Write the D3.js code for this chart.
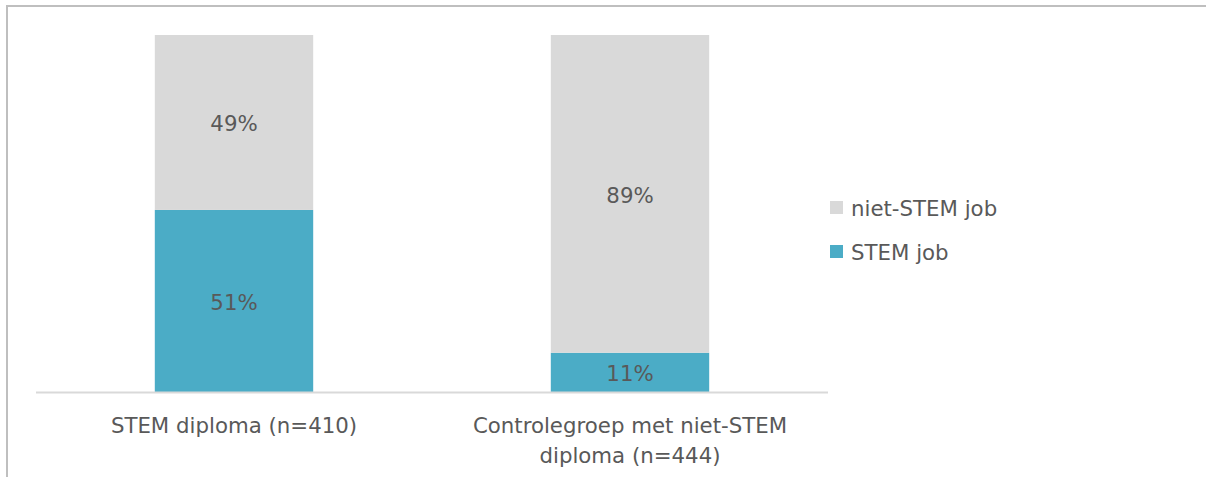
<!DOCTYPE html>
<html><head><meta charset="utf-8">
<script src="https://cdn.jsdelivr.net/npm/d3@7"></script>
<style>body{margin:0;background:#fff}svg{display:block}text{font-family:"DejaVu Sans";fill:#595959}</style>
</head><body>
<svg id="c" width="1206" height="477"></svg>
<script>
const categories = [["STEM diploma (n=410)"], ["Controlegroep met niet-STEM", "diploma (n=444)"]];
const catKeys = ["STEM diploma (n=410)", "Controlegroep met niet-STEM diploma (n=444)"];
const seriesNames = ["STEM job", "niet-STEM job"];
const stemJob = [51, 11];
const nietStemJob = [49, 89];
const colors = ["#4bacc6", "#d9d9d9"];

const FS = "21.3px";
const svg = d3.select("#c");
svg.append("rect").attr("x",7).attr("y",6).attr("width",1206).attr("height",480)
  .attr("fill","none").attr("stroke","#bfbfbf").attr("stroke-width",2);

const x = d3.scaleBand().domain(catKeys).range([36, 828]).padding(0);
const y = d3.scaleLinear().domain([0, 100]).range([392, 35]);
const barW = x.bandwidth() * 0.4;

const data = catKeys.map((k, i) => ({key: k, "STEM job": stemJob[i], "niet-STEM job": nietStemJob[i]}));
const stack = d3.stack().keys(seriesNames)(data);

const g = svg.append("g");
stack.forEach((s, si) => {
  s.forEach(d => {
    const cx = x(d.data.key) + x.bandwidth() / 2;
    g.append("rect").attr("x", cx - barW/2).attr("width", barW)
      .attr("y", y(d[1])).attr("height", y(d[0]) - y(d[1])).attr("fill", colors[si]);
    g.append("text").attr("x", cx).attr("y", (y(d[0]) + y(d[1]))/2 + 1).attr("dy","0.36em")
      .attr("text-anchor","middle").style("font-size",FS).text((d[1]-d[0]) + "%");
  });
});

// axis line
svg.append("line").attr("x1",36).attr("x2",828).attr("y1",392.5).attr("y2",392.5)
  .attr("stroke","#d9d9d9").attr("stroke-width",2);

// category labels
catKeys.forEach((k, i) => {
  const cx = x(k) + x.bandwidth()/2;
  const t = svg.append("text").attr("x", cx).attr("y", 433).attr("text-anchor","middle").style("font-size",FS);
  categories[i].forEach((line, li) => {
    t.append("tspan").attr("x", cx).attr("dy", li === 0 ? 0 : 30).text(line);
  });
});

// legend
const legendItems = ["niet-STEM job", "STEM job"];
legendItems.forEach((name, i) => {
  const yy = 208 + i * 44;
  svg.append("rect").attr("x",830).attr("y",yy-7).attr("width",13).attr("height",13)
    .attr("fill", colors[seriesNames.indexOf(name)]);
  svg.append("text").attr("x",851).attr("y",yy).attr("dy","0.36em").style("font-size",FS).text(name);
});
</script>
</body></html>
